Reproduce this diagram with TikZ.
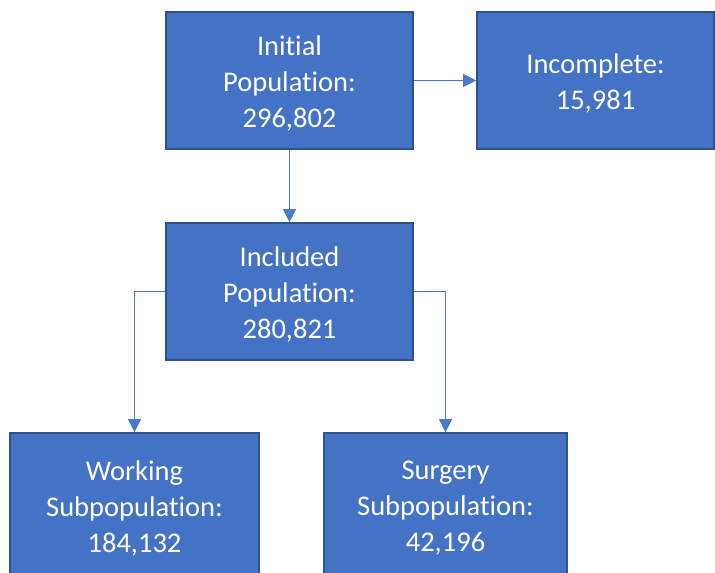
\documentclass[tikz,border=0pt]{standalone}
\usepackage{fontspec}
\setmainfont[Ligatures=NoCommon]{Carlito}
\usetikzlibrary{arrows.meta}
\definecolor{boxfill}{HTML}{4472C4}
\definecolor{boxline}{HTML}{2F528F}
\definecolor{conn}{HTML}{4A7BCB}
\begin{document}
\begin{tikzpicture}[x=1pt,y=-1pt,
  box/.style={draw=boxline, line width=1.6pt, fill=boxfill, inner sep=0pt},
  txt/.style={text=white, align=center, inner sep=0pt, font=\fontsize{28.5}{36}\selectfont},
  conn/.style={draw=conn, line width=1.1pt, -{Triangle[width=13pt,length=13pt]}}]
\useasboundingbox (0,0) rectangle (715,573);
\node[box, minimum width=247pt, minimum height=137pt] (init) at (289.5,80.5) {};
\node[box, minimum width=237pt, minimum height=137pt] (inc) at (595.5,80.5) {};
\node[box, minimum width=247pt, minimum height=137pt] (incl) at (289.5,291.5) {};
\node[box, minimum width=249pt, minimum height=144pt] (work) at (134.5,505) {};
\node[box, minimum width=243pt, minimum height=144pt] (surg) at (445.5,505) {};
\node[txt] (initT) at ([yshift=-3pt]init.center) {Initial\\Population:\\296,802};
\node[txt] (incT) at ([yshift=-3pt]inc.center) {Incomplete:\\15,981};
\node[txt] (inclT) at ([yshift=-3pt]incl.center) {Included\\Population:\\280,821};
\node[txt] (workT) at ([yshift=-3pt]work.center) {Working\\Subpopulation:\\184,132};
\node[txt] (surgT) at ([yshift=-3pt]surg.center) {Surgery\\Subpopulation:\\42,196};
\draw[conn] (init.east) -- (inc.west);
\draw[conn] (init.south) -- (incl.north);
\draw[conn] (incl.west) -| (work.north);
\draw[conn] (incl.east) -| (surg.north);
\end{tikzpicture}
\end{document}
